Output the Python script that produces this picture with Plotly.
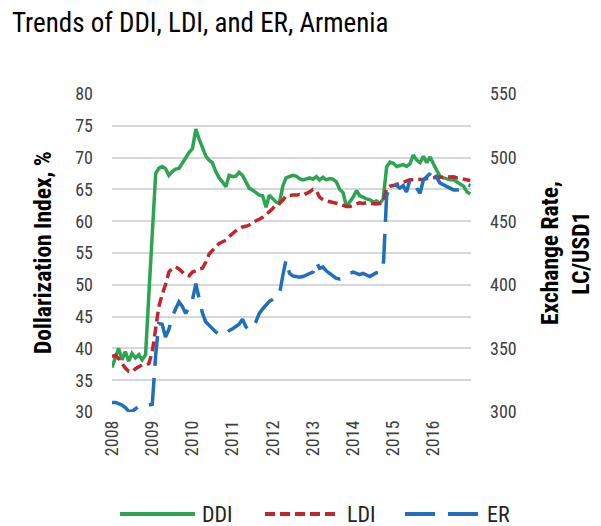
import plotly.graph_objects as go

months = [f"{y}-{m:02d}-01" for y in range(2008, 2017) for m in range(1, 13)]

ddi = [37.0, 38.5, 40.0, 38.2, 39.5, 38.0, 39.2, 38.5, 39.0, 38.2, 39.0, 48.5,
       58.5, 67.5, 68.3, 68.6, 68.3, 67.2, 67.8, 68.2, 68.3, 69.2, 69.9, 70.8,
       71.4, 74.5, 73.0, 71.5, 70.3, 69.6, 69.2, 67.8, 66.8, 66.2, 65.4, 67.2,
       67.0, 67.1, 67.7, 67.2, 66.3, 65.2, 64.9, 64.5, 64.1, 64.0, 62.2, 64.1,
       63.5, 63.0, 62.8, 65.5, 66.8, 67.0, 67.2, 67.1, 66.7, 66.5, 66.6, 66.8,
       66.6, 67.0, 66.5, 66.9, 66.5, 66.7, 66.6, 66.2, 65.0, 64.5, 62.3, 63.0,
       63.8, 64.8, 64.0, 63.8, 63.5, 63.4, 63.0, 63.2, 62.8, 63.5, 68.5, 69.3,
       69.1, 68.6, 68.7, 68.9, 68.6, 69.0, 70.4, 69.6, 69.2, 70.2, 69.2, 70.1,
       69.0, 68.1, 67.0, 66.8, 66.6, 66.5, 66.5, 66.2, 65.8, 65.5, 64.6, 64.3]

ldi = [38.7, 38.9, 38.4, 37.6, 36.9, 36.4, 36.3, 36.8, 37.1, 37.4, 37.4, 37.6,
       39.5, 43.5, 46.5, 48.5, 50.0, 52.0, 52.6, 52.8, 52.5, 52.0, 51.5, 51.4,
       52.0, 52.2, 52.5, 52.6, 53.5, 54.8, 55.5, 56.0, 56.5, 56.8, 57.0, 57.6,
       58.1, 58.5, 58.8, 59.1, 59.2, 59.4, 59.8, 60.0, 60.3, 60.6, 61.0, 61.5,
       62.0, 62.6, 62.8, 63.3, 64.0, 64.1, 64.1, 64.1, 64.2, 64.1, 64.3, 64.6,
       65.0, 64.8, 63.8, 63.4, 63.2, 63.1, 63.0, 62.9, 62.7, 62.5, 62.3, 62.3,
       62.5, 62.8, 62.9, 62.8, 62.9, 62.8, 62.7, 62.7, 62.8, 63.0, 65.2, 65.5,
       65.6, 65.8, 66.0, 66.2, 66.3, 66.5, 66.5, 66.5, 66.6, 66.6, 66.7, 66.8,
       66.9, 66.9, 66.9, 66.9, 67.0, 67.0, 67.0, 66.8, 66.7, 66.6, 66.5, 66.4]

er = [307.5, 307.5, 306.5, 305.5, 303.5, 300.5, 300.5, 302.5, 304.5, 305.5, 306.0, 305.5,
      306.0, 345.0, 369.5, 369.0, 359.0, 365.0, 375.0, 381.0, 386.5, 383.0, 377.5, 382.0,
      388.0, 401.0, 390.0, 378.0, 371.0, 368.0, 366.0, 363.0, 361.0, 360.5, 361.5, 364.0,
      365.5, 367.0, 369.0, 373.0, 367.0, 364.5, 366.5, 371.0, 377.5, 381.0, 384.5, 387.0,
      388.5, 390.0, 392.0, 407.0, 419.5, 409.0, 407.0, 406.5, 406.0, 406.5, 407.5, 409.0,
      410.0, 418.0, 413.0, 414.0, 411.0, 409.0, 407.0, 405.0, 404.5, 405.0, 406.5, 409.0,
      410.0, 409.0, 408.0, 409.0, 407.5, 406.5, 408.0, 409.5, 410.0, 412.0, 470.0, 477.5,
      480.0, 478.0, 476.0, 478.0, 473.0, 482.5, 481.0, 476.0, 472.0, 482.5, 485.0, 487.5,
      491.5, 484.0, 480.0, 478.5, 477.0, 476.0, 474.6, 474.5, 475.0, 478.5, 479.0, 478.0]

year_ticks = [f"{y}-01-01" for y in range(2008, 2017)]
year_labels = [str(y) for y in range(2008, 2017)]
left_ticks = [30, 35, 40, 45, 50, 55, 60, 65, 70, 75, 80]
right_ticks = [300, 350, 400, 450, 500, 550]
x_range = ["2008-01-01", "2016-12-07"]

GREEN = "#2ca552"
RED = "#c0272d"
BLUE = "#1f6fbd"
GRID = "#d5d7db"
FONT = "Liberation Sans Narrow, Roboto Condensed, Liberation Sans, Arial, sans-serif"
TICKC = "#404040"

W, H = 593, 518          # page body has an 8px margin
L, R, T, B = 104, 130, 86, 114
PW = W - L - R

def px(xpix):
    # reference pixel x -> paper coordinate
    return (xpix - 8 - L) / PW

fig = go.Figure()

fig.add_trace(go.Scatter(x=months, y=ddi, mode="lines", name="DDI",
                         line=dict(color=GREEN, width=3.5), showlegend=False))
fig.add_trace(go.Scatter(x=months, y=ldi, mode="lines", name="LDI",
                         line=dict(color=RED, width=3.5, dash="10px,5px"), showlegend=False))
fig.add_trace(go.Scatter(x=months, y=er, mode="lines", name="ER", yaxis="y2",
                         line=dict(color=BLUE, width=3.5, dash="30px,12px"), showlegend=False))

fig.update_layout(
    width=W, height=H,
    margin=dict(l=L, r=R, t=T, b=B),
    paper_bgcolor="white", plot_bgcolor="white",
    font=dict(family=FONT, color=TICKC),
    title=dict(text="Trends of DDI, LDI, and ER, Armenia", xref="container", x=4 / W,
               xanchor="left", y=1 - 15 / H, yanchor="middle",
               font=dict(family=FONT, size=27, color="#000000")),
    xaxis=dict(type="date", range=x_range, tickvals=year_ticks,
               ticktext=year_labels, tickangle=-90, showgrid=False, ticks="",
               tickfont=dict(size=18, color=TICKC), showline=False, zeroline=False,
               ticklabelstandoff=4),
    yaxis=dict(range=[30, 80], tickvals=left_ticks, showgrid=True, gridcolor=GRID,
               gridwidth=2, zeroline=False, ticks="", tickfont=dict(size=18, color=TICKC),
               ticklabelstandoff=18),
    yaxis2=dict(range=[300, 550], tickvals=right_ticks, overlaying="y", side="right",
                showgrid=False, zeroline=False, ticks="", tickfont=dict(size=18, color=TICKC),
                ticklabelstandoff=18),
)

# axis titles
fig.add_annotation(text="<b>Dollarization Index, %</b>", xref="paper", yref="paper",
                   x=px(43), y=0.5, textangle=-90, showarrow=False,
                   xanchor="center", yanchor="middle",
                   font=dict(family=FONT, size=23.5, color="#000000"))
fig.add_annotation(text="<b>Exchange Rate,<br>LC/USD1</b>", xref="paper", yref="paper",
                   x=px(565), y=0.5, textangle=-90, showarrow=False,
                   xanchor="center", yanchor="middle",
                   font=dict(family=FONT, size=23.5, color="#000000"))

# custom legend
ly = (404 - 506) / 318
items = [("DDI", GREEN, "solid", 120, 195), ("LDI", RED, "10px,5px", 265, 340),
         ("ER", BLUE, "30px,13px", 405, 480)]
for name, col, dash, x0, x1 in items:
    fig.add_shape(type="line", xref="paper", yref="paper",
                  x0=px(x0), x1=px(x1), y0=ly, y1=ly,
                  line=dict(color=col, width=4, dash=dash))
    fig.add_annotation(text=name, xref="paper", yref="paper", x=px(x1 + 5), y=ly,
                       xanchor="left", yanchor="middle", showarrow=False,
                       font=dict(family=FONT, size=22, color="#222222"))

fig.write_html("out.html")
